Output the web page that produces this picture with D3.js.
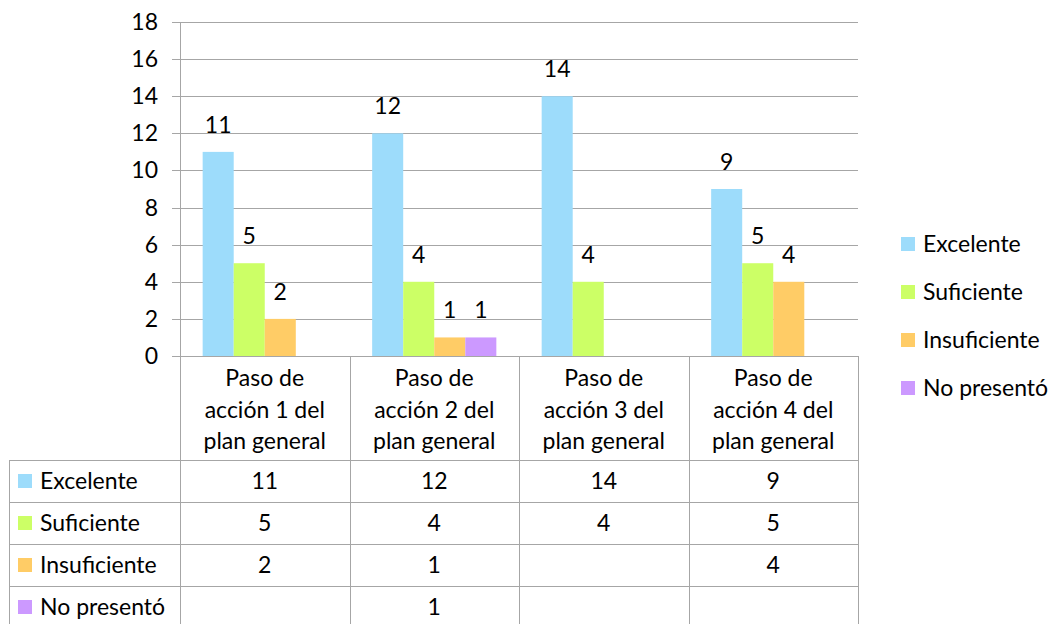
<!DOCTYPE html>
<html>
<head>
<meta charset="utf-8">
<script src="https://cdn.jsdelivr.net/npm/d3@7"></script>
<style>
  body { margin: 0; background: #fff; }
  svg text { font-family: Lato, "Open Sans", sans-serif; fill: #000; }
</style>
</head>
<body>
<svg id="chart" width="1063" height="624"></svg>
<script>
const categories = ["Paso de acción 1 del plan general", "Paso de acción 2 del plan general",
                    "Paso de acción 3 del plan general", "Paso de acción 4 del plan general"];
const categoryLines = [["Paso de", "acción 1 del", "plan general"], ["Paso de", "acción 2 del", "plan general"],
                       ["Paso de", "acción 3 del", "plan general"], ["Paso de", "acción 4 del", "plan general"]];
const seriesNames = ["Excelente", "Suficiente", "Insuficiente", "No presentó"];
const seriesColors = ["#9ddcfb", "#ccff66", "#ffcc66", "#cc99ff"];
const excelente = [11, 12, 14, 9];
const suficiente = [5, 4, 4, 5];
const insuficiente = [2, 1, null, 4];
const noPresento = [null, 1, null, null];
const yTicks = [0, 2, 4, 6, 8, 10, 12, 14, 16, 18];

const seriesValues = [excelente, suficiente, insuficiente, noPresento];

const plot = {left: 180, right: 858, top: 22, bottom: 356};
const rowH = 42;
const tableTop = 460;
const tableLeft = 9;
const gridColor = "#a6a6a6";
const fs = 23;

const svg = d3.select("#chart");

const x = d3.scaleBand().domain(categories).range([plot.left, plot.right]).paddingInner(0).paddingOuter(0);
const xs = d3.scaleBand().domain(seriesNames).range([0, x.bandwidth()]).paddingOuter(0.73).paddingInner(0);
const y = d3.scaleLinear().domain([0, 18]).range([plot.bottom, plot.top]);

// gridlines
svg.append("g").selectAll("line").data(yTicks).join("line")
  .attr("x1", plot.left - 8).attr("x2", plot.right)
  .attr("y1", d => Math.round(y(d)) + 0.5).attr("y2", d => Math.round(y(d)) + 0.5)
  .attr("stroke", gridColor).attr("stroke-width", 1);

// y labels
svg.append("g").selectAll("text").data(yTicks).join("text")
  .attr("x", 158).attr("y", d => y(d)).attr("dy", "0.35em")
  .attr("text-anchor", "end").style("font-size", fs + "px")
  .text(d => d);

// y axis line
svg.append("line").attr("x1", plot.left + 0.5).attr("x2", plot.left + 0.5)
  .attr("y1", plot.top).attr("y2", plot.bottom).attr("stroke", gridColor);

// bars
const barData = [];
seriesValues.forEach((vals, si) => vals.forEach((v, ci) => {
  if (v != null) barData.push({s: seriesNames[si], c: categories[ci], v: v, color: seriesColors[si]});
}));

svg.append("g").selectAll("rect").data(barData).join("rect")
  .attr("x", d => x(d.c) + xs(d.s))
  .attr("width", xs.bandwidth())
  .attr("y", d => y(d.v))
  .attr("height", d => y(0) - y(d.v))
  .attr("fill", d => d.color);

svg.append("g").selectAll("text").data(barData).join("text")
  .attr("x", d => x(d.c) + xs(d.s) + xs.bandwidth() / 2)
  .attr("y", d => y(d.v) - 27).attr("dy", "0.35em")
  .attr("text-anchor", "middle").style("font-size", fs + "px")
  .text(d => d.v);

// data table
const t = svg.append("g").attr("stroke", gridColor).attr("stroke-width", 1).attr("fill", "none");
const bounds = categories.map(c => x(c)).concat([plot.right]);
bounds.forEach(b => {
  t.append("line").attr("x1", Math.round(b) + 0.5).attr("x2", Math.round(b) + 0.5)
    .attr("y1", plot.bottom).attr("y2", 624);
});
t.append("line").attr("x1", tableLeft + 0.5).attr("x2", tableLeft + 0.5).attr("y1", tableTop).attr("y2", 624);
for (let r = 0; r < 4; r++) {
  t.append("line").attr("x1", tableLeft).attr("x2", plot.right)
    .attr("y1", tableTop + r * rowH + 0.5).attr("y2", tableTop + r * rowH + 0.5);
}

// category labels
categories.forEach((c, i) => {
  categoryLines[i].forEach((ln, j) => {
    svg.append("text").attr("x", x(c) + x.bandwidth() / 2).attr("y", 378 + j * 31.5)
      .attr("dy", "0.35em").attr("text-anchor", "middle").style("font-size", fs + "px").text(ln);
  });
});

// table rows
seriesNames.forEach((s, si) => {
  const cy = tableTop + si * rowH + rowH / 2;
  svg.append("rect").attr("x", 18).attr("y", cy - 7).attr("width", 14).attr("height", 14).attr("fill", seriesColors[si]);
  svg.append("text").attr("x", 40).attr("y", cy).attr("dy", "0.35em").style("font-size", fs + "px").text(s);
  seriesValues[si].forEach((v, ci) => {
    if (v == null) return;
    svg.append("text").attr("x", x(categories[ci]) + x.bandwidth() / 2).attr("y", cy).attr("dy", "0.35em")
      .attr("text-anchor", "middle").style("font-size", fs + "px").text(v);
  });
});

// legend
seriesNames.forEach((s, si) => {
  const ly = 244 + si * 48;
  svg.append("rect").attr("x", 901).attr("y", ly - 7).attr("width", 14).attr("height", 14).attr("fill", seriesColors[si]);
  svg.append("text").attr("x", 923).attr("y", ly).attr("dy", "0.35em").style("font-size", fs + "px").text(s);
});
</script>
</body>
</html>
